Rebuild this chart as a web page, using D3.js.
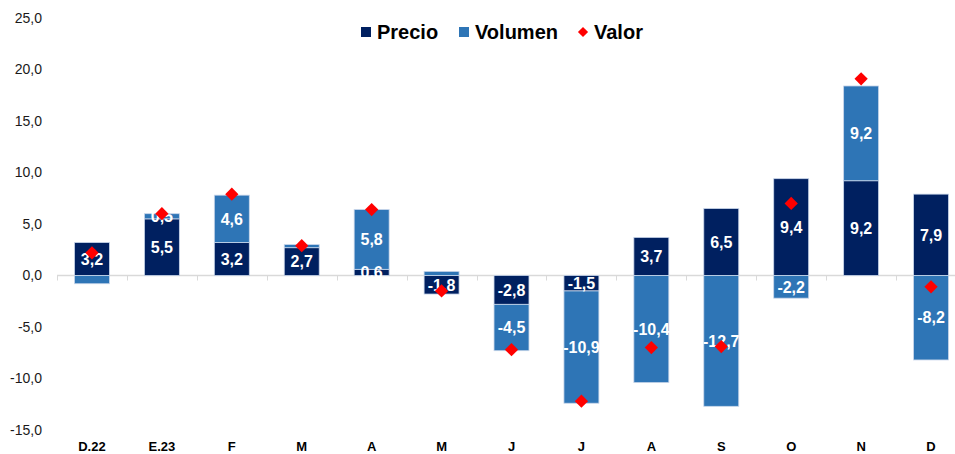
<!DOCTYPE html>
<html>
<head>
<meta charset="utf-8">
<script src="https://cdn.jsdelivr.net/npm/d3@7"></script>
<style>
  body { margin: 0; background: #fff; }
  svg { display: block; }
</style>
</head>
<body>
<div id="chart"></div>
<script>
// meses
var categories = ['D.22', 'E.23', 'F', 'M', 'A', 'M', 'J', 'J', 'A', 'S', 'O', 'N', 'D'];
// contribuciones
var precio = [3.2, 5.5, 3.2, 2.7, 0.6, -1.8, -2.8, -1.5, 3.7, 6.5, 9.4, 9.2, 7.9];
var volumen = [-0.8, 0.5, 4.6, 0.3, 5.8, 0.4, -4.5, -10.9, -10.4, -12.7, -2.2, 9.2, -8.2];
var valor = [2.2, 6.0, 7.9, 2.9, 6.4, -1.5, -7.2, -12.2, -7.0, -6.9, 7.0, 19.1, -1.1];
var yTicks = [25, 20, 15, 10, 5, 0, -5, -10, -15];

(function(d3) {
  'use strict';

  var width = 955;
  var height = 454;
  var colors = { precio: '#002060', volumen: '#2E75B6', valor: '#FF0000' };
  var fmt = function(v) { return v.toFixed(1).replace('.', ','); };

  var svg = d3.select('#chart')
    .append('svg')
    .attr('width', width)
    .attr('height', height);

  var x = d3.scaleBand()
    .domain(d3.range(categories.length))
    .range([57, 966])
    .paddingInner(0.5)
    .paddingOuter(0.25);

  var y = d3.scaleLinear()
    .domain([-15, 25])
    .range([430, 18]);

  // tabla para el apilado
  var rows = categories.map(function(c, i) {
    return { i: i, precio: precio[i], volumen: volumen[i] };
  });
  var series = d3.stack()
    .keys(['precio', 'volumen'])
    .offset(d3.stackOffsetDiverging)(rows);

  // eje y (solo etiquetas)
  svg.append('g')
    .selectAll('text')
    .data(yTicks)
    .enter()
    .append('text')
    .attr('x', 42)
    .attr('y', function(d) { return y(d); })
    .attr('dy', '0.35em')
    .attr('text-anchor', 'end')
    .style('font-family', 'Liberation Sans, Arial, sans-serif')
    .style('font-size', '14px')
    .style('fill', '#1a1a1a')
    .text(fmt);

  // linea del cero con marcas
  var step = x.step();
  svg.append('line')
    .attr('x1', 57).attr('x2', width)
    .attr('y1', y(0)).attr('y2', y(0))
    .style('stroke', '#d9d9d9')
    .style('stroke-width', 1.5);
  svg.append('g')
    .selectAll('line')
    .data(d3.range(categories.length))
    .enter()
    .append('line')
    .attr('x1', function(i) { return Math.round(x(i) - (step - x.bandwidth()) / 2) + 0.5; })
    .attr('x2', function(i) { return Math.round(x(i) - (step - x.bandwidth()) / 2) + 0.5; })
    .attr('y1', y(0))
    .attr('y2', y(0) + 5)
    .style('stroke', '#d9d9d9');

  // barras
  var groups = svg.selectAll('.serie')
    .data(series)
    .enter()
    .append('g')
    .attr('class', 'serie')
    .style('fill', function(d) { return colors[d.key]; });

  groups.selectAll('rect')
    .data(function(d) { return d; })
    .enter()
    .append('rect')
    .attr('x', function(d) { return x(d.data.i); })
    .attr('width', x.bandwidth())
    .attr('y', function(d) { return y(Math.max(d[0], d[1])); })
    .attr('height', function(d) { return Math.abs(y(d[0]) - y(d[1])); })
    .style('stroke', '#c9d6ea')
    .style('stroke-width', 0.8);

  // etiquetas de datos
  var labels = [];
  series.forEach(function(s) {
    s.forEach(function(d) {
      var v = d.data[s.key];
      if (Math.abs(v) < 0.5 || (s.key === 'volumen' && d.data.i === 0)) return;
      labels.push({ i: d.data.i, v: v, mid: (d[0] + d[1]) / 2 });
    });
  });
  svg.append('g')
    .selectAll('text')
    .data(labels)
    .enter()
    .append('text')
    .attr('x', function(d) { return x(d.i) + x.bandwidth() / 2; })
    .attr('y', function(d) { return y(d.mid); })
    .attr('dy', '0.36em')
    .attr('text-anchor', 'middle')
    .style('font-family', 'Liberation Sans, Arial, sans-serif')
    .style('font-weight', 'bold')
    .style('font-size', '16px')
    .style('fill', '#ffffff')
    .text(function(d) { return fmt(d.v); });

  // valor (rombos)
  var diamond = d3.symbol().type(d3.symbolSquare).size(88);
  svg.append('g')
    .selectAll('path')
    .data(valor)
    .enter()
    .append('path')
    .attr('d', diamond)
    .attr('transform', function(d, i) {
      return 'translate(' + (x(i) + x.bandwidth() / 2) + ',' + y(d) + ') rotate(45)';
    })
    .style('fill', colors.valor);

  // etiquetas eje x
  svg.append('g')
    .selectAll('text')
    .data(categories)
    .enter()
    .append('text')
    .attr('x', function(d, i) { return x(i) + x.bandwidth() / 2; })
    .attr('y', 451)
    .attr('text-anchor', 'middle')
    .style('font-family', 'Liberation Sans, Arial, sans-serif')
    .style('font-weight', 'bold')
    .style('font-size', '13px')
    .style('fill', '#000')
    .text(function(d) { return d; });

  // leyenda
  var legend = svg.append('g').attr('class', 'legend');
  var items = [
    { label: 'Precio', color: colors.precio, x: 361, shape: 'rect' },
    { label: 'Volumen', color: colors.volumen, x: 459, shape: 'rect' },
    { label: 'Valor', color: colors.valor, x: 578, shape: 'diamond' }
  ];
  items.forEach(function(it) {
    if (it.shape === 'rect') {
      legend.append('rect')
        .attr('x', it.x).attr('y', 27)
        .attr('width', 10).attr('height', 10)
        .style('fill', it.color);
    } else {
      legend.append('path')
        .attr('d', d3.symbol().type(d3.symbolSquare).size(52))
        .attr('transform', 'translate(' + (it.x + 5) + ',32) rotate(45)')
        .style('fill', it.color);
    }
    legend.append('text')
      .attr('x', it.x + 16)
      .attr('y', 39)
      .style('font-family', 'Liberation Sans, Arial, sans-serif')
      .style('font-weight', 'bold')
      .style('font-size', '20px')
      .style('fill', '#000')
      .text(it.label);
  });

})(window.d3);
</script>
</body>
</html>
